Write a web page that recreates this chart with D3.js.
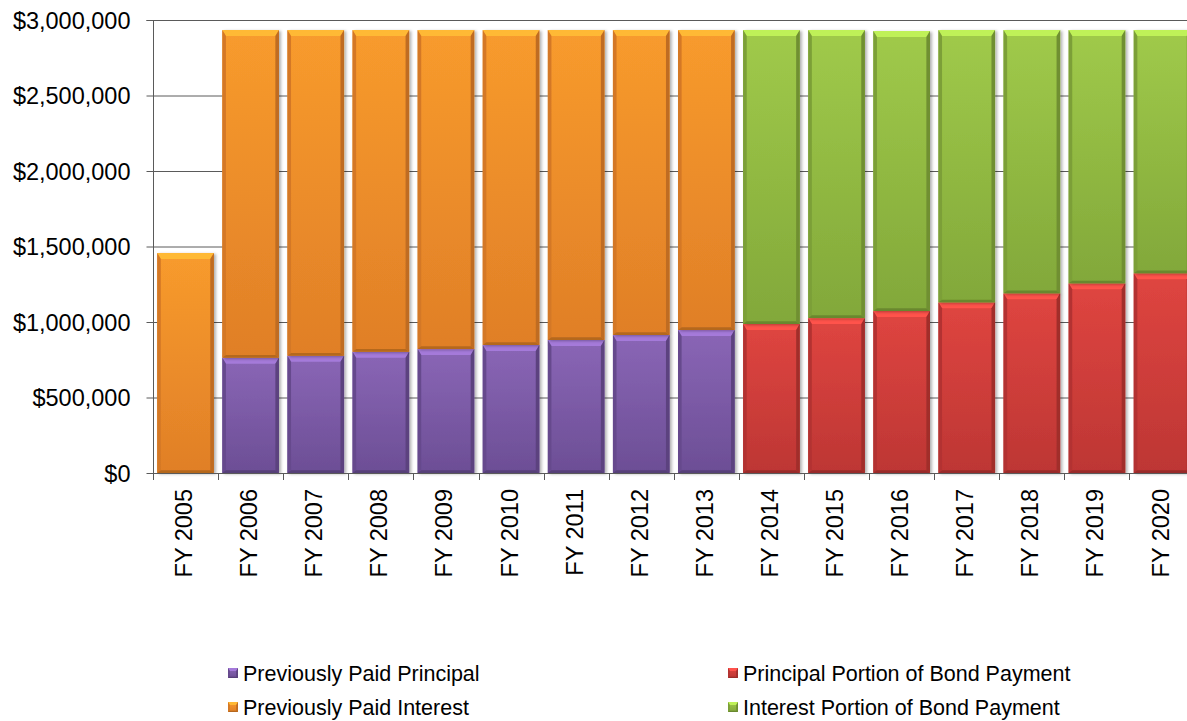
<!DOCTYPE html>
<html>
<head>
<meta charset="utf-8">
<script src="https://cdn.jsdelivr.net/npm/d3@7"></script>
<style>
  body { margin: 0; background: #fff; }
  text { font-family: Arial, "Liberation Sans", sans-serif; fill: #000; }
</style>
</head>
<body>
<svg id="chart" width="1187" height="721"></svg>
<script>
const years = ['FY 2005', 'FY 2006', 'FY 2007', 'FY 2008', 'FY 2009', 'FY 2010', 'FY 2011', 'FY 2012',
  'FY 2013', 'FY 2014', 'FY 2015', 'FY 2016', 'FY 2017', 'FY 2018', 'FY 2019', 'FY 2020'];

// previously paid (FY2005 - FY2013)
const prevPrincipal = [0, 764000, 777000, 803000, 821000, 848000, 881000, 914000, 947000,
  0, 0, 0, 0, 0, 0, 0];
const prevInterest = [1457000, 2169000, 2156000, 2130000, 2112000, 2085000, 2052000, 2019000, 1986000,
  0, 0, 0, 0, 0, 0, 0];
// bond payment (FY2014 - FY2020)
const bondPrincipal = [0, 0, 0, 0, 0, 0, 0, 0, 0,
  987000, 1026000, 1073000, 1130000, 1190000, 1256000, 1323000];
const bondInterest = [0, 0, 0, 0, 0, 0, 0, 0, 0,
  1946000, 1907000, 1854000, 1803000, 1743000, 1677000, 1610000];

const yTicks = [0, 500000, 1000000, 1500000, 2000000, 2500000, 3000000];

const series = [
  { name: 'Previously Paid Principal', values: prevPrincipal, top: '#8a66b6', bot: '#6c4e95' },
  { name: 'Previously Paid Interest', values: prevInterest, top: '#f89b2d', bot: '#e07f27' },
  { name: 'Principal Portion of Bond Payment', values: bondPrincipal, top: '#df4540', bot: '#bd3634' },
  { name: 'Interest Portion of Bond Payment', values: bondInterest, top: '#a0ca4a', bot: '#82a83a' },
];

const svg = d3.select('#chart');
const plotL = 153, plotR = 1194.6, plotT = 20, plotB = 473;

const x = d3.scaleBand().domain(years).range([plotL, plotR]).paddingInner(0.13).paddingOuter(0.065);
const y = d3.scaleLinear().domain([0, 3000000]).range([plotB, plotT]);

const defs = svg.append('defs');
const f = defs.append('filter').attr('id', 'shadow').attr('x', '-10%').attr('y', '-10%')
  .attr('width', '130%').attr('height', '130%');
f.append('feDropShadow').attr('dx', 2).attr('dy', 1).attr('stdDeviation', 1.5)
  .attr('flood-color', '#000').attr('flood-opacity', 0.3);

series.forEach((s, i) => {
  const gr = defs.append('linearGradient').attr('id', 'grad' + i)
    .attr('x1', 0).attr('y1', 0).attr('x2', 0).attr('y2', 1);
  gr.append('stop').attr('offset', '0%').attr('stop-color', s.top);
  gr.append('stop').attr('offset', '100%').attr('stop-color', s.bot);
});

// gridlines
svg.append('g')
  .selectAll('line')
  .data(yTicks)
  .join('line')
  .attr('x1', plotL)
  .attr('x2', plotR)
  .attr('y1', (d) => y(d) + 0.5)
  .attr('y2', (d) => y(d) + 0.5)
  .attr('stroke', '#5a5a5a')
  .attr('stroke-width', 1);

// stack
const rows = years.map((yr, i) => {
  const r = { year: yr };
  series.forEach((s) => (r[s.name] = s.values[i]));
  return r;
});
const stack = d3.stack().keys(series.map((s) => s.name))(rows);

function bevel(g, x0, y0, w, h, si, b) {
  const s = series[si];
  const bt = Math.min(b, h / 2), bs = Math.min(b * 0.6, w / 2), bb = Math.min(b * 0.45, h / 2);
  const ct = d3.color(s.top), cb = d3.color(s.bot);
  g.append('rect').attr('x', x0).attr('y', y0).attr('width', w).attr('height', h)
    .attr('fill', `url(#grad${si})`);
  const poly = (pts, fill) =>
    g.append('polygon').attr('points', pts.map((p) => p.join(',')).join(' ')).attr('fill', fill);
  poly([[x0, y0], [x0 + w, y0], [x0 + w - bs, y0 + bt], [x0 + bs, y0 + bt]], ct.brighter(0.5));
  poly([[x0, y0], [x0 + bs, y0 + bt], [x0 + bs, y0 + h - bb], [x0, y0 + h]], cb.darker(0.15));
  poly([[x0 + w, y0], [x0 + w - bs, y0 + bt], [x0 + w - bs, y0 + h - bb], [x0 + w, y0 + h]], cb.darker(0.45));
  poly([[x0, y0 + h], [x0 + bs, y0 + h - bb], [x0 + w - bs, y0 + h - bb], [x0 + w, y0 + h]], cb.darker(0.6));
}

const barsG = svg.append('g');
stack.forEach((layer, si) => {
  layer.forEach((d, i) => {
    if (d[1] - d[0] <= 0) return;
    const g = barsG.append('g').attr('filter', 'url(#shadow)');
    const y0 = y(d[1]);
    const h = y(d[0]) - y(d[1]);
    bevel(g, x(years[i]), y0, x.bandwidth(), h, si, 6);
  });
});

// y axis
const yAxis = svg.append('g')
  .attr('transform', `translate(${plotL + 0.5},0)`)
  .call(d3.axisLeft(y).tickValues(yTicks).tickSize(7).tickPadding(16).tickFormat(d3.format('$,')));
yAxis.select('.domain').attr('stroke', '#5a5a5a').attr('d', `M-7,${plotT + 0.5}H0V${plotB + 0.5}`);
yAxis.selectAll('.tick line').attr('stroke', '#5a5a5a');
yAxis.selectAll('.tick text').attr('font-size', 23.5).attr('dy', '0.36em');

// x axis
const step = x.step();
const x0 = x(years[0]) - step * x.paddingInner() / 2;
const xg = svg.append('g');
xg.append('line').attr('x1', plotL).attr('x2', plotR).attr('y1', plotB + 0.5).attr('y2', plotB + 0.5)
  .attr('stroke', '#5a5a5a');
xg.selectAll('line.tk')
  .data(d3.range(years.length + 1))
  .join('line')
  .attr('class', 'tk')
  .attr('x1', (i) => Math.round(x0 + i * step) + 0.5)
  .attr('x2', (i) => Math.round(x0 + i * step) + 0.5)
  .attr('y1', plotB)
  .attr('y2', plotB + 7)
  .attr('stroke', '#5a5a5a');
xg.selectAll('text')
  .data(years)
  .join('text')
  .attr('transform', (d) => `translate(${x(d) + x.bandwidth() / 2 - 2},${plotB + 16}) rotate(-90)`)
  .attr('text-anchor', 'end')
  .attr('dy', '0.36em')
  .attr('font-size', 23.5)
  .text((d) => d);

// legend
const legendPos = [
  { x: 228, y: 673 }, { x: 228, y: 707 }, { x: 728, y: 673 }, { x: 728, y: 707 },
];
const lg = svg.append('g');
series.forEach((s, i) => {
  const p = legendPos[i];
  const g = lg.append('g');
  bevel(g, p.x, p.y - 5, 10, 10, i, 3);
  lg.append('text')
    .attr('x', p.x + 15)
    .attr('y', p.y)
    .attr('dy', '0.36em')
    .attr('font-size', 21.5)
    .text(s.name);
});
</script>
</body>
</html>
